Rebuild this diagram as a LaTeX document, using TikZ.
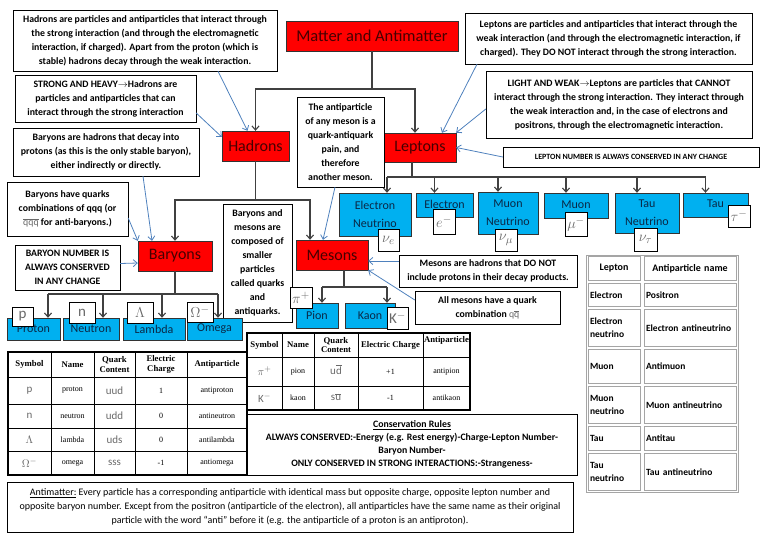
\documentclass[tikz,border=0pt]{standalone}
\usepackage{fontspec}
\setmainfont{Carlito}
\newfontfamily\timesfont{Liberation Serif}
\usepackage{xcolor}
\usepackage{tikz}
\usetikzlibrary{arrows.meta, positioning, calc}
\definecolor{boxred}{RGB}{255,0,0}
\definecolor{redtext}{RGB}{70,0,0}
\definecolor{skyblue}{RGB}{0,176,240}
\definecolor{bluetext}{RGB}{10,40,70}
\definecolor{noteblue}{RGB}{79,129,189}
\definecolor{linkgray}{RGB}{64,64,64}
\definecolor{symgray}{RGB}{105,105,105}
\definecolor{cellgray}{RGB}{165,165,165}
\newcommand{\qbar}[1]{\smash{\overline{\mathrm{#1}}}}

\begin{document}
\begin{tikzpicture}[x=1pt, y=-1pt, >={Straight Barb[length=4pt,width=7pt]}]
  \tikzstyle{redbox} = [rectangle, draw=black!80, fill=boxred, inner sep=0pt, font=\fontsize{16}{18}\selectfont\color{redtext}]
  \tikzstyle{bluebox} = [rectangle, draw=black!80, fill=skyblue, inner sep=0pt, align=center, font=\fontsize{12}{18}\selectfont\color{bluetext}]
  \tikzstyle{symbox} = [rectangle, draw=black, fill=white, inner sep=0pt, font=\fontsize{15}{17}\selectfont\color{symgray}]
  \tikzstyle{callout} = [rectangle, draw=black, fill=white, inner sep=0pt, align=center, font=\fontsize{9.8}{14}\selectfont\bfseries]
  \tikzstyle{link} = [draw=linkgray, line width=1.1pt, ->]
  \tikzstyle{note} = [draw=noteblue, line width=0.8pt, ->]
  \tikzstyle{lcell} = [rectangle, draw=cellgray, inner xsep=2pt, inner ysep=0pt, text width=48pt, align=left, font=\fontsize{9.5}{13}\selectfont\bfseries]
  \tikzstyle{acell} = [rectangle, draw=cellgray, inner xsep=2pt, inner ysep=0pt, text width=88pt, align=left, font=\fontsize{9.5}{13}\selectfont\bfseries]
  \tikzstyle{thead} = [inner sep=0pt, align=center, font=\fontsize{8.7}{9.5}\selectfont\timesfont\bfseries]
  \tikzstyle{tcell} = [inner sep=0pt, align=center, font=\fontsize{8}{9}\selectfont\timesfont]
  \tikzstyle{tsym} = [inner sep=0pt, font=\fontsize{11}{12}\selectfont\color{symgray}]

  \useasboundingbox (0,0) rectangle (768,543);

  % main boxes
  \node [redbox, font=\fontsize{16.5}{18}\selectfont\color{redtext}, minimum width=172pt, minimum height=30pt] (matter) at (372,36) {Matter and Antimatter};
  \node [redbox, minimum width=67pt, minimum height=30pt] (hadrons) at (255.5,146) {Hadrons};
  \node [redbox, minimum width=72pt, minimum height=29pt] (leptons) at (420,147.5) {Leptons};
  \node [redbox, minimum width=74pt, minimum height=30pt] (baryons) at (175,256) {Baryons};
  \node [redbox, minimum width=72pt, minimum height=30pt] (mesons) at (332,255) {Mesons};

  % notes
  \node [callout, minimum width=264pt, minimum height=61pt] (hadtxt) at (145,40.5) {Hadrons are particles and antiparticles that interact through\\the strong interaction (and through the electromagnetic\\interaction, if charged). Apart from the proton (which is\\stable) hadrons decay through the weak interaction.};
  \node [callout, minimum width=181pt, minimum height=47pt] (strongtxt) at (105.5,98.5) {STRONG AND HEAVY$\rightarrow$Hadrons are\\particles and antiparticles that can\\interact through the strong interaction};
  \node [callout, minimum width=186pt, minimum height=48pt] (decaytxt) at (106,152) {Baryons are hadrons that decay into\\protons (as this is the only stable baryon),\\either indirectly or directly.};
  \node [callout, minimum width=121pt, minimum height=54pt] (quarktxt) at (67.5,209) {Baryons have quarks\\combinations of qqq (or\\{\color{symgray}$\qbar{q}\qbar{q}\qbar{q}$} for anti-baryons.)};
  \node [callout, minimum width=105pt, minimum height=45pt] (bnumtxt) at (67.5,267.5) {BARYON NUMBER IS\\ALWAYS CONSERVED\\IN ANY CHANGE};
  \node [callout, minimum width=87pt, minimum height=90pt] (mesanti) at (340.5,142) {The antiparticle\\of any meson is a\\quark-antiquark\\pain, and\\therefore\\another meson.};
  \node [callout, minimum width=69pt, minimum height=118pt] (composed) at (257.5,263) {Baryons and\\mesons are\\composed of\\smaller\\particles\\called quarks\\and\\antiquarks.};
  \node [callout, minimum width=287pt, minimum height=51pt] (leptxt) at (608.5,38.5) {Leptons are particles and antiparticles that interact through the\\weak interaction (and through the electromagnetic interaction, if\\charged). They DO NOT interact through the strong interaction.};
  \node [callout, minimum width=266pt, minimum height=67pt] (lighttxt) at (619,104.5) {LIGHT AND WEAK$\rightarrow$Leptons are particles that CANNOT\\interact through the strong interaction. They interact through\\the weak interaction and, in the case of electrons and\\positrons, through the electromagnetic interaction.};
  \node [callout, font=\fontsize{8}{14}\selectfont\bfseries, minimum width=256pt, minimum height=20pt] (lnumtxt) at (631,157) {LEPTON NUMBER IS ALWAYS CONSERVED IN ANY CHANGE};
  \node [callout, minimum width=178pt, minimum height=32pt] (mesdecay) at (488,271) {Mesons are hadrons that DO NOT\\include protons in their decay products.};
  \node [callout, minimum width=145pt, minimum height=33pt] (mesquark) at (487.5,307.5) {All mesons have a quark\\combination {\color{symgray}$\mathrm{q}\qbar{q}$}};

  % leptons
  \node [bluebox, minimum width=72pt, minimum height=43pt] (enu) at (375,214.5) {Electron\\Neutrino};
  \node [bluebox, minimum width=57pt, minimum height=24pt] (elec) at (444.5,205) {\raisebox{2pt}{Electron}};
  \node [bluebox, minimum width=60pt, minimum height=42pt] (munu) at (508,213) {Muon\\Neutrino};
  \node [bluebox, minimum width=64pt, minimum height=25pt] (muon) at (576,205.5) {\raisebox{2pt}{Muon}};
  \node [bluebox, minimum width=64pt, minimum height=40pt] (taunu) at (647,213) {Tau\\Neutrino};
  \node [bluebox, minimum width=65pt, minimum height=24pt] (tau) at (715.5,205) {\raisebox{2pt}{Tau}};
  \node [symbox, minimum width=21pt, minimum height=22pt] (enusym) at (388.5,240) {$\nu_e$};
  \node [symbox, minimum width=22pt, minimum height=25pt] (elecsym) at (444,222) {$e^-$};
  \node [symbox, minimum width=22pt, minimum height=22pt] (munusym) at (506,240) {$\nu_\mu$};
  \node [symbox, minimum width=22pt, minimum height=24pt] (muonsym) at (576,224.5) {$\mu^-$};
  \node [symbox, minimum width=23pt, minimum height=23pt] (taunusym) at (645.5,239.5) {$\nu_\tau$};
  \node [symbox, minimum width=22pt, minimum height=22pt] (tausym) at (739,216) {$\tau^-$};

  % baryons and mesons
  \node [bluebox, minimum width=53pt, minimum height=22pt] (proton) at (33.5,329) {Proton};
  \node [bluebox, minimum width=56pt, minimum height=22pt] (neutron) at (91,329) {Neutron};
  \node [bluebox, minimum width=62pt, minimum height=22pt] (lambda) at (154,329) {Lambda};
  \node [bluebox, minimum width=55pt, minimum height=22pt] (omega) at (214.5,329) {Omega};
  \node [symbox, minimum width=21pt, minimum height=19pt] (psym) at (22.5,316.5) {$\mathrm{p}$};
  \node [symbox, minimum width=26pt, minimum height=21pt] (nsym) at (82,312.5) {$\mathrm{n}$};
  \node [symbox, minimum width=26pt, minimum height=21pt] (lsym) at (140,312.5) {$\Lambda$};
  \node [symbox, minimum width=26pt, minimum height=20pt] (osym) at (200,312) {$\Omega^-$};
  \node [bluebox, minimum width=42pt, minimum height=25pt] (pion) at (317,315.5) {Pion};
  \node [bluebox, minimum width=50pt, minimum height=25pt] (kaon) at (370,315.5) {Kaon};
  \node [symbox, minimum width=22pt, minimum height=21pt] (pisym) at (301,297.5) {$\pi^+$};
  \node [symbox, minimum width=21pt, minimum height=22pt] (ksym) at (397.5,318) {$\mathrm{K}^-$};

  % tree connectors
  \coordinate (mbar) at (372,89);
  \draw[link] (matter) -- (mbar) -| (hadrons);
  \draw[link] (mbar) -| ([xshift=-5pt]leptons.north);
  \coordinate (hbar) at (255.5,200);
  \draw[link] (hadrons) -- (hbar) -| (baryons);
  \draw[link] (hbar) -| ([xshift=-22pt]mesons.north);
  \coordinate (lbar) at (412,177);
  \draw[link, -] (leptons.south -| lbar) -- (lbar);
  \draw[link, -] ([xshift=12pt]enu.north |- lbar) -- ([xshift=-10pt]tau.north |- lbar);
  \draw[link] ([xshift=12pt]enu.north |- lbar) -- ([xshift=12pt]enu.north);
  \foreach \n in {elec, munu, muon, taunu, tau}
    \draw[link] ([xshift=-10pt]\n.north |- lbar) -- ([xshift=-10pt]\n.north);
  \coordinate (bbar) at (175,294);
  \coordinate (bp) at (48,294);
  \coordinate (bn) at (103,294);
  \coordinate (bl) at (162,294);
  \coordinate (bo) at (218,294);
  \draw[link, -] (baryons) -- (bbar);
  \draw[link, -] (bp) -- (bo);
  \draw[link] (bp) -- (bp |- proton.north);
  \draw[link] (bn) -- (bn |- neutron.north);
  \draw[link] (bl) -- (bl |- lambda.north);
  \draw[link] (bo) -- (bo |- omega.north);
  \coordinate (mbr) at (344,287);
  \coordinate (mpi) at (322,287);
  \coordinate (mka) at (387,287);
  \draw[link, -] (mesons.south -| mbr) -- (mbr);
  \draw[link, -] (mpi) -- (mka);
  \draw[link] (mpi) -- (mpi |- pion.north);
  \draw[link] (mka) -- (mka |- kaon.north);

  % note arrows
  \draw[note] ([xshift=73pt]hadtxt.south) -- ([xshift=-8pt]hadrons.north);
  \draw[note] ([yshift=-14.5pt]strongtxt.east) -- ([yshift=9pt]hadrons.west);
  \draw[note] ([xshift=37pt]decaytxt.south) -- ([xshift=-23pt]baryons.north);
  \draw[note] ([yshift=-9pt]quarktxt.east) -- (baryons.north west);
  \draw[note] ([yshift=4pt]bnumtxt.east) -- ([yshift=-7pt]baryons.west);
  \draw[note] ([xshift=-5.5pt]mesanti.south) -- ([xshift=-9pt]mesons.north);
  \draw[note] ([yshift=10pt]mesdecay.west) -- ([yshift=-6pt]mesons.east);
  \draw[note] ([yshift=7.5pt]mesquark.west) -- (mesons.south east);
  \draw[note] ([xshift=-131.5pt]leptxt.south) -- ([xshift=22pt]leptons.north);
  \draw[note] ([yshift=-4.5pt]lighttxt.west) -- (leptons.north east);
  \draw[note] (lnumtxt.west) -- (leptons.east);

  % lepton table
  \draw[cellgray] (586,255) rectangle (738,492);
  \node [lcell, align=center, font=\fontsize{10}{12}\selectfont\bfseries, minimum height=24pt] (lhead) at (614,268.5) {Lepton};
  \node [acell, align=center, font=\fontsize{10}{12}\selectfont\bfseries, minimum height=24pt] (ahead) at (690,268.5) {Antiparticle name};
  \foreach \ya/\yb/\lp/\ap [count=\r] in {282/308/Electron/Positron, 308/348/{Electron\\neutrino}/{Electron antineutrino}, 348/385/Muon/Antimuon, 385/425/{Muon\\neutrino}/{Muon antineutrino}, 425/452/Tau/Antitau, 452/492/{Tau\\neutrino}/{Tau antineutrino}} {
    \node [lcell, minimum height={\yb-\ya-3}] (lep\r) at (614,{(\ya+\yb)/2}) {\lp};
    \node [acell, minimum height={\yb-\ya-3}] (anti\r) at (690,{(\ya+\yb)/2}) {\ap};
  }

  % baryon table
  \draw[line width=1.2pt] (8,352) rectangle (247,475);
  \foreach \x in {51,94,135,187} \draw[line width=0.6pt] (\x,352) -- (\x,475);
  \foreach \y in {377,404,428,451} \draw[line width=0.6pt] (8,\y) -- (247,\y);
  \node [thead] (bh1) at (29.5,364.5) {Symbol};
  \node [thead] (bh2) at (72.5,364.5) {Name};
  \node [thead] (bh3) at (114.5,364.5) {Quark\\Content};
  \node [thead] (bh4) at (161,364.5) {Electric\\Charge};
  \node [thead] (bh5) at (217,364.5) {Antiparticle};
  \foreach \y/\s/\n/\q/\c/\a [count=\r] in {390.5/{\mathrm{p}}/proton/{\mathrm{uud}}/1/antiproton, 416/{\mathrm{n}}/neutron/{\mathrm{udd}}/0/antineutron, 439.5/{\Lambda}/lambda/{\mathrm{uds}}/0/antilambda, 463/{\Omega^-}/omega/{\mathrm{sss}}/-1/antiomega} {
    \node [tsym] (bs\r) at (29.5,\y) {$\s$};
    \node [tcell] (bn\r) at (72.5,\y) {\n};
    \node [tsym] (bq\r) at (114.5,\y) {$\q$};
    \node [tcell] (bc\r) at (161,\y) {\c};
    \node [tcell] (ba\r) at (217,\y) {\a};
  }

  % meson table
  \draw[line width=1.2pt] (247,333) rectangle (470,410);
  \foreach \x in {282,314,358,423} \draw[line width=0.6pt] (\x,333) -- (\x,410);
  \foreach \y in {357,386} \draw[line width=0.6pt] (247,\y) -- (470,\y);
  \node [thead] (mh1) at (264.5,345) {Symbol};
  \node [thead] (mh2) at (298,345) {Name};
  \node [thead] (mh3) at (336,345) {Quark\\Content};
  \node [thead] (mh4) at (390.5,345) {Electric Charge};
  \node [thead] (mh5) at (446.5,340) {Antiparticle};
  \foreach \y/\s/\n/\q/\c/\a [count=\r] in {371.5/{\pi^+}/pion/{\mathrm{u}\qbar{d}}/+1/antipion, 398/{\mathrm{K}^-}/kaon/{\mathrm{s}\qbar{u}}/-1/antikaon} {
    \node [tsym] (ms\r) at (264.5,\y) {$\s$};
    \node [tcell] (mn\r) at (298,\y) {\n};
    \node [tsym] (mq\r) at (336,\y) {$\q$};
    \node [tcell] (mc\r) at (390.5,\y) {\c};
    \node [tcell] (ma\r) at (446.5,\y) {\a};
  }

  % rules
  \node [callout, font=\fontsize{9.8}{13}\selectfont\bfseries, minimum width=330pt, minimum height=61pt] (rules) at (412,444.5) {\underline{Conservation Rules}\\ALWAYS CONSERVED:-Energy (e.g. Rest energy)-Charge-Lepton Number-\\Baryon Number-\\ONLY CONSERVED IN STRONG INTERACTIONS:-Strangeness-};
  \node [callout, font=\fontsize{10}{14}\selectfont, minimum width=566pt, minimum height=50pt] (antimat) at (290,507) {\underline{Antimatter:} Every particle has a corresponding antiparticle with identical mass but opposite charge, opposite lepton number and\\opposite baryon number. Except from the positron (antiparticle of the electron), all antiparticles have the same name as their original\\particle with the word “anti” before it (e.g. the antiparticle of a proton is an antiproton).};
\end{tikzpicture}
\end{document}
